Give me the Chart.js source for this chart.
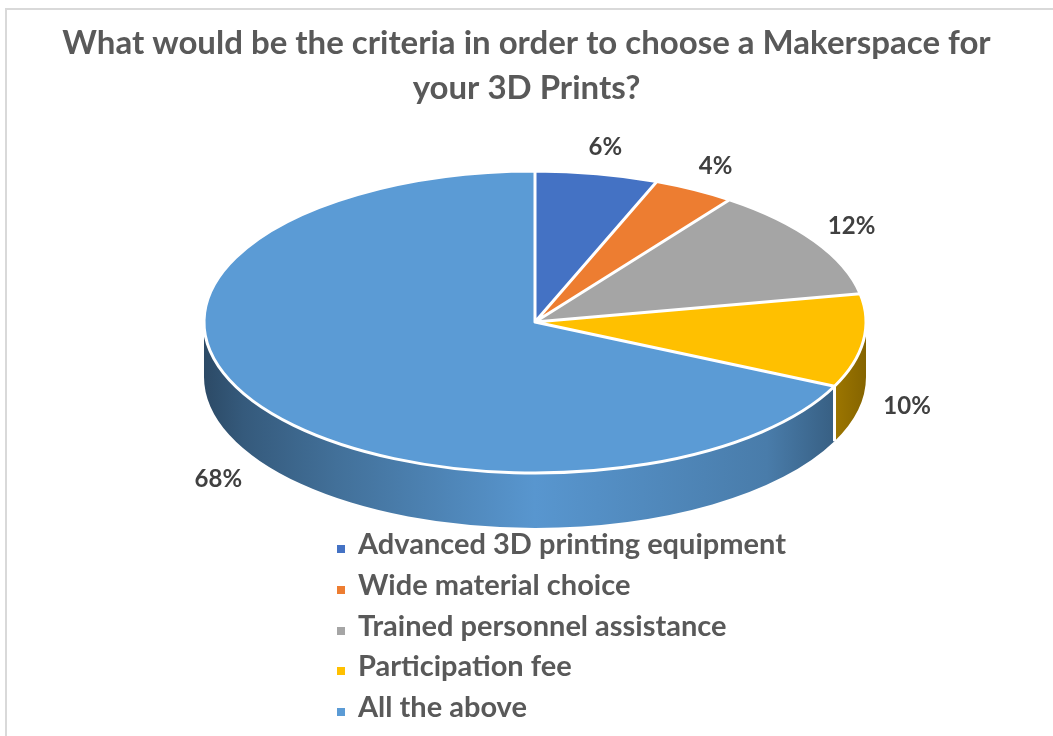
<!DOCTYPE html>
<html>
<head>
<meta charset="utf-8">
<title>Makerspace criteria</title>
<script src="https://cdn.jsdelivr.net/npm/chart.js@4.4.0/dist/chart.umd.min.js"></script>
<style>
  html, body { margin: 0; padding: 0; background: #fff; overflow: hidden; }
  body { width: 1053px; height: 736px; position: relative; font-family: Lato, sans-serif; }
  #frame { position: absolute; left: 5px; top: 8px; right: 0; bottom: 0; border: 2px solid #d9d9d9; border-right: none; border-bottom: none; }
  #chart { position: absolute; left: 0; top: 0; }
  #legend { position: absolute; left: 337px; top: 523px; margin: 0; padding: 0; list-style: none; }
  #legend li { height: 40.8px; line-height: 40.8px; font-size: 29px; font-weight: bold; color: #595959; white-space: nowrap; }
  #legend .box { display: inline-block; width: 8px; height: 8px; margin-right: 13px; vertical-align: 1px; }
</style>
</head>
<body>
<div id="frame"></div>
<canvas id="chart" width="1053" height="736"></canvas>
<ul id="legend"></ul>
<script>
// Risposte al sondaggio (percentuali)
const categories = [
  "Advanced 3D printing equipment",
  "Wide material choice",
  "Trained personnel assistance",
  "Participation fee",
  "All the above"
];
const shares = [6, 4, 12, 10, 68];
const sliceColors = ["#4472C4", "#ED7D31", "#A5A5A5", "#FFC000", "#5B9BD5"];
const titleLines = [
  "What would be the criteria in order to choose a Makerspace for",
  "your 3D Prints?"
];

// Ellisse della torta in pixel schermo + spessore del bordo 3D
const PIE = { cx: 535, cy: 322, rx: 331, ry: 151, depth: 55, labelRx: 375, labelRy: 178, labelDrop: 62 };

// Scurisce un colore esadecimale di un fattore
function shade(hex, f) {
  const n = parseInt(hex.slice(1), 16);
  const r = Math.round(((n >> 16) & 255) * f);
  const g = Math.round(((n >> 8) & 255) * f);
  const b = Math.round((n & 255) * f);
  return `rgb(${r},${g},${b})`;
}

const wallStops = [[0, 0.48], [0.06, 0.58], [0.2, 0.72], [0.5, 0.97], [0.85, 0.8], [0.95, 0.62], [1, 0.52]];

// Plugin: schiaccia la torta in un'ellisse e disegna la parete laterale
const pie3d = {
  id: "pie3d",
  beforeDatasetsDraw(chart) {
    const ctx = chart.ctx;
    const arcs = chart.getDatasetMeta(0).data;
    const { x, y, outerRadius: r } = arcs[0];
    const sx = PIE.rx / r, sy = PIE.ry / r;
    const dd = PIE.depth / sy;
    ctx.save();
    ctx.translate(PIE.cx, PIE.cy);
    ctx.scale(sx, sy);
    ctx.translate(-x, -y);
    // solo la metà davanti (0..PI) è visibile
    arcs.forEach((arc, i) => {
      const a0 = Math.max(arc.startAngle, 0);
      const a1 = Math.min(arc.endAngle, Math.PI);
      if (a1 <= a0) return;
      const grad = ctx.createLinearGradient(x - r, 0, x + r, 0);
      wallStops.forEach(([t, f]) => grad.addColorStop(t, shade(sliceColors[i], f)));
      ctx.beginPath();
      ctx.arc(x, y, r, a0, a1);
      ctx.arc(x, y + dd, r, a1, a0, true);
      ctx.closePath();
      ctx.fillStyle = grad;
      ctx.fill();
    });
    chart.$pie = { x, y, r, dd };
  },
  afterDatasetsDraw(chart) {
    const ctx = chart.ctx;
    const arcs = chart.getDatasetMeta(0).data;
    const { x, y, r, dd } = chart.$pie;
    ctx.beginPath();
    arcs.forEach(arc => {
      ctx.moveTo(x, y);
      ctx.arc(x, y, r, arc.startAngle, arc.endAngle);
      ctx.closePath();
      const a = arc.startAngle;
      if (a > 0 && a < Math.PI) {
        ctx.moveTo(x + r * Math.cos(a), y + r * Math.sin(a));
        ctx.lineTo(x + r * Math.cos(a), y + dd + r * Math.sin(a));
      }
    });
    ctx.restore(); // il tracciato resta, il bordo bianco ha spessore uniforme
    ctx.strokeStyle = "#fff";
    ctx.lineWidth = 3;
    ctx.lineJoin = "round";
    ctx.stroke();

    // etichette percentuali
    ctx.save();
    ctx.font = "bold 24px Lato";
    ctx.fillStyle = "#404040";
    ctx.textAlign = "center";
    ctx.textBaseline = "middle";
    arcs.forEach((arc, i) => {
      const mid = (arc.startAngle + arc.endAngle) / 2;
      const c = Math.cos(mid), s = Math.sin(mid);
      const lx = PIE.cx + PIE.labelRx * c;
      const ly = PIE.cy + PIE.labelRy * s + (s > 0 ? PIE.labelDrop : 0);
      ctx.fillText(shares[i] + "%", lx, ly);
    });
    ctx.restore();
  }
};

new Chart(document.getElementById("chart"), {
  type: "pie",
  data: {
    labels: categories,
    datasets: [{
      data: shares,
      backgroundColor: sliceColors,
      borderWidth: 0,
      clip: false
    }]
  },
  options: {
    responsive: false,
    animation: false,
    plugins: {
      legend: { display: false },
      tooltip: { enabled: false },
      title: {
        display: true,
        text: titleLines,
        color: "#595959",
        font: { family: "Lato", size: 33, weight: "bold", lineHeight: 1.39 },
        padding: { top: 20, bottom: 10 }
      }
    }
  },
  plugins: [pie3d]
});

// Legenda verticale
const legendEl = document.getElementById("legend");
categories.forEach((name, i) => {
  const li = document.createElement("li");
  const box = document.createElement("span");
  box.className = "box";
  box.style.background = sliceColors[i];
  li.appendChild(box);
  li.appendChild(document.createTextNode(name));
  legendEl.appendChild(li);
});
</script>
</body>
</html>
